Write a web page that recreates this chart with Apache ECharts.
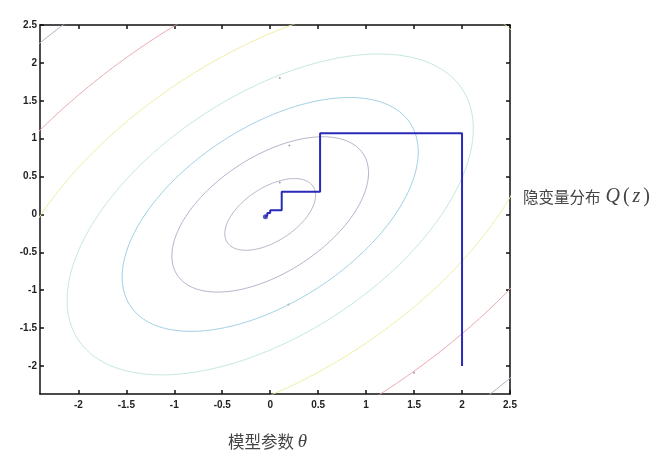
<!DOCTYPE html>
<html>
<head>
<meta charset="utf-8">
<script src="https://cdn.jsdelivr.net/npm/echarts@6/dist/echarts.min.js"></script>
<style>html,body{margin:0;padding:0;background:#fff;}#c{width:658px;height:465px;}</style>
</head>
<body>
<div id="c"></div>
<script>
// ---- data ----
const xTicks = [-2, -1.5, -1, -0.5, 0, 0.5, 1, 1.5, 2, 2.5];
const yTicks = [-2, -1.5, -1, -0.5, 0, 0.5, 1, 1.5, 2, 2.5];
const xRange = [-2.4, 2.5];
const yRange = [-2.37, 2.5];
// contour levels of f(x,y) = x^2 + y^2 - k*x*y
const crossTerm = 1.07;
const contourLevels = [0.16, 0.75, 1.7, 3.2, 5.7, 9.85, 16.7];
const contourColors = ['#b8b8cc', '#b4b4cc', '#a0d0e6', '#c4e8dc', '#eeeea4', '#eaaab0', '#b8b0c6'];
// coordinate-ascent path
const pathX = [2, 2, 0.52, 0.52, 0.12, 0.12, 0.0, 0.0, -0.03, -0.03, -0.05, -0.05];
const pathY = [-2, 1.07, 1.07, 0.30, 0.30, 0.055, 0.055, 0.02, 0.02, -0.01, -0.01, -0.03];
// small dots on contours
const dotX = [0.20, 0.10, 0.19, 1.50, 0.10];
const dotY = [0.91, 1.80, -1.19, -2.09, 0.42];

function ellipse(level) {
  const a = Math.sqrt(level / (1 - crossTerm / 2));
  const b = Math.sqrt(level / (1 + crossTerm / 2));
  const pts = [];
  const n = 400;
  for (let i = 0; i <= n; i++) {
    const t = 2 * Math.PI * i / n;
    const u = a * Math.cos(t), v = b * Math.sin(t);
    pts.push([(u - v) / Math.SQRT2, (u + v) / Math.SQRT2]);
  }
  return pts;
}

const series = contourLevels.map((L, i) => ({
  type: 'line', data: ellipse(L), showSymbol: false, symbol: 'none',
  lineStyle: { color: contourColors[i], width: 1 }, clip: true, silent: true,
  xAxisIndex: 0, yAxisIndex: 0
}));
series.push({
  type: 'scatter', data: dotX.map((x, i) => [x, dotY[i]]), symbolSize: 2,
  itemStyle: { color: '#8888aa' }, silent: true
});
series.push({
  type: 'line', data: pathX.map((x, i) => [x, pathY[i]]), showSymbol: false, symbol: 'none',
  lineStyle: { color: '#2a2ab8', width: 2 }, clip: true, silent: true
});
series.push({
  type: 'scatter', data: [[pathX[pathX.length - 1], pathY[pathY.length - 1]]], symbolSize: 5,
  itemStyle: { color: '#2a2ab8' }, silent: true
});

const tickLabel = { fontFamily: 'Liberation Sans', fontSize: 10, fontWeight: 'bold', color: '#222' };
const axLine = { show: true, onZero: false, lineStyle: { color: '#111', width: 1.5 } };
const grid = { left: 40, right: 148, top: 25, bottom: 71 };
const serifIt = { fontFamily: 'Liberation Serif', fontStyle: 'italic', fontWeight: 'normal', color: '#444' };
const serifUp = { fontFamily: 'Liberation Serif', fontWeight: 'normal', color: '#444' };

const chart = echarts.init(document.getElementById('c'));
chart.setOption({
  animation: false,
  backgroundColor: '#fff',
  grid: grid,
  title: [
    {
      text: '{a|隐变量分布 }{b|Q}{c|(}{b|z}{c|)}', left: 518, top: 182,
      textStyle: { fontWeight: 'normal', rich: {
        a: { fontFamily: 'Noto Sans CJK SC', fontSize: 15.5, fontWeight: 'normal', color: '#444' },
        b: Object.assign({ fontSize: 20, padding: [0, 1.5] }, serifIt),
        c: Object.assign({ fontSize: 20, padding: [0, 1.5] }, serifUp)
      } }
    },
    {
      text: '{a|模型参数 }{b|θ}', left: 223, top: 427,
      textStyle: { fontWeight: 'normal', rich: {
        a: { fontFamily: 'Noto Sans CJK SC', fontSize: 16.5, fontWeight: 'normal', color: '#444' },
        b: Object.assign({ fontSize: 19 }, serifIt)
      } }
    }
  ],
  xAxis: [
    {
      type: 'value', min: xRange[0], max: xRange[1], position: 'bottom',
      axisLine: axLine,
      axisTick: { show: true, inside: true, length: 4, customValues: xTicks, lineStyle: { color: '#111', width: 1.5 } },
      axisLabel: Object.assign({ customValues: xTicks, margin: 6 }, tickLabel),
      splitLine: { show: false }
    },
    {
      type: 'value', min: xRange[0], max: xRange[1], position: 'top',
      axisLine: axLine,
      axisTick: { show: true, inside: true, length: 4, customValues: xTicks, lineStyle: { color: '#111', width: 1.5 } },
      axisLabel: { show: false },
      splitLine: { show: false }
    }
  ],
  yAxis: [
    {
      type: 'value', min: yRange[0], max: yRange[1], position: 'left',
      axisLine: axLine,
      axisTick: { show: true, inside: true, length: 4, customValues: yTicks, lineStyle: { color: '#111', width: 1.5 } },
      axisLabel: Object.assign({ customValues: yTicks, margin: 3 }, tickLabel),
      splitLine: { show: false }
    },
    {
      type: 'value', min: yRange[0], max: yRange[1], position: 'right',
      axisLine: axLine,
      axisTick: { show: true, inside: true, length: 4, customValues: yTicks, lineStyle: { color: '#111', width: 1.5 } },
      axisLabel: { show: false },
      splitLine: { show: false }
    }
  ],
  series: series
});
</script>
</body>
</html>
